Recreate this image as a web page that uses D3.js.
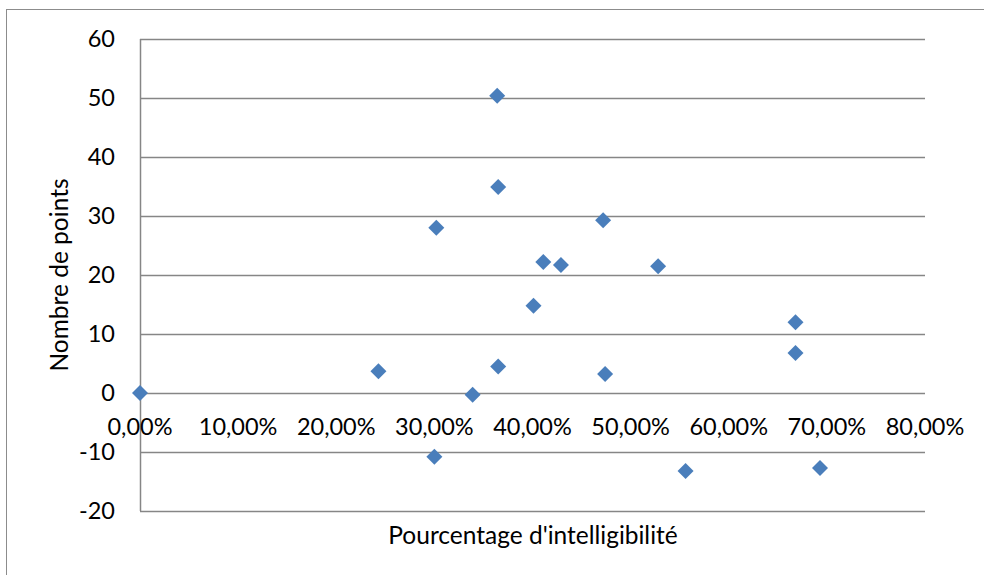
<!DOCTYPE html>
<html>
<head>
<meta charset="utf-8">
<script src="https://cdn.jsdelivr.net/npm/d3@7"></script>
<style>
  body { margin: 0; background: #fff; }
  svg text { font-family: Lato, "Open Sans", sans-serif; fill: #000; }
</style>
</head>
<body>
<svg id="chart" width="984" height="575"></svg>
<script>
// intelligibility (fraction) vs. points
var intelligibilite = [0.000, 0.243, 0.302, 0.300, 0.339, 0.364, 0.365, 0.365, 0.401, 0.411, 0.429, 0.472, 0.474, 0.528, 0.556, 0.668, 0.668, 0.693];
var points          = [0.0,   3.7,   28.0,  -10.8, -0.3,  50.4,  34.9,  4.5,   14.8,  22.2,  21.7,  29.3,  3.2,   21.5,  -13.2, 12.0,  6.8,   -12.7];

var xTicks = [0, 0.1, 0.2, 0.3, 0.4, 0.5, 0.6, 0.7, 0.8];
var yTicks = [-20, -10, 0, 10, 20, 30, 40, 50, 60];

var xTitle = "Pourcentage d'intelligibilité",
    yTitle = "Nombre de points";

var svg = d3.select('#chart');

var plot = { left: 140, right: 925, top: 39, bottom: 511 };

var x = d3.scaleLinear().domain([0, 0.8]).range([plot.left, plot.right]),
    y = d3.scaleLinear().domain([-20, 60]).range([plot.bottom, plot.top]),
    fmtPct = function(d) { return d3.format('.2f')(d * 100).replace('.', ',') + '%'; };

// outer chart frame
svg.append('rect')
    .attr('x', 6.5).attr('y', 9.5)
    .attr('width', 1000).attr('height', 600)
    .attr('fill', 'none')
    .attr('stroke', '#8c8c8c')
    .attr('stroke-width', 1);

// horizontal gridlines
svg.append('g')
    .selectAll('line')
    .data(yTicks)
    .enter().append('line')
        .attr('x1', plot.left).attr('x2', plot.right)
        .attr('y1', function(d) { return Math.round(y(d)) + 0.5; })
        .attr('y2', function(d) { return Math.round(y(d)) + 0.5; })
        .attr('stroke', '#868686')
        .attr('stroke-width', 1.5);

// vertical axis line
svg.append('line')
    .attr('x1', plot.left + 0.5).attr('x2', plot.left + 0.5)
    .attr('y1', plot.top).attr('y2', plot.bottom)
    .attr('stroke', '#868686')
    .attr('stroke-width', 1.5);

// y tick labels
svg.append('g')
    .selectAll('text')
    .data(yTicks)
    .enter().append('text')
        .attr('x', 115)
        .attr('y', function(d) { return y(d); })
        .attr('dy', '0.35em')
        .attr('text-anchor', 'end')
        .style('font-size', '23.5px')
        .text(function(d) { return d; });

// x tick labels (sit on the zero line, as in the source)
svg.append('g')
    .selectAll('text')
    .data(xTicks)
    .enter().append('text')
        .attr('x', function(d) { return x(d); })
        .attr('y', y(0) + 34)
        .attr('dy', '0.35em')
        .attr('text-anchor', 'middle')
        .style('font-size', '23.5px')
        .text(fmtPct);

// axis titles
svg.append('text')
    .attr('x', 533).attr('y', 535)
    .attr('dy', '0.35em')
    .attr('text-anchor', 'middle')
    .style('font-size', '24.5px')
    .text(xTitle);

svg.append('text')
    .attr('transform', 'translate(59, 275) rotate(-90)')
    .attr('dy', '0.35em')
    .attr('text-anchor', 'middle')
    .style('font-size', '24.5px')
    .text(yTitle);

// diamond markers
var data = intelligibilite.map(function(v, i) { return { x: v, y: points[i] }; });
svg.append('g')
    .selectAll('path')
    .data(data)
    .enter().append('path')
        .attr('transform', function(d) { return 'translate(' + x(d.x) + ',' + y(d.y) + ')'; })
        .attr('d', 'M0,-8 L8,0 L0,8 L-8,0 Z')
        .attr('fill', '#4a7ebb');
</script>
</body>
</html>
